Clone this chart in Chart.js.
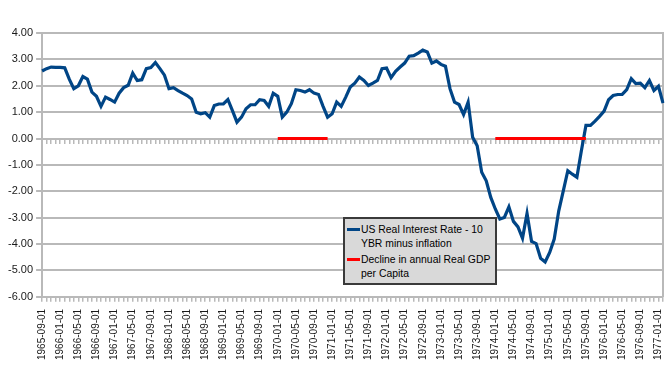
<!DOCTYPE html>
<html>
<head>
<meta charset="utf-8">
<script src="https://cdn.jsdelivr.net/npm/chart.js@4.4.1/dist/chart.umd.min.js"></script>
<style>
  html, body { margin: 0; padding: 0; background: #ffffff; }
  #wrap { position: relative; width: 670px; height: 367px; }
  #legend {
    position: absolute; left: 343px; top: 217px; width: 150px; height: 64px;
    background: #d9d9d9; border: 2px solid #3a3a3a;
    font-family: "Liberation Sans", Arial, sans-serif; font-size: 10.4px; color: #000;
    line-height: 13.5px; box-sizing: content-box; white-space: nowrap;
  }
  .item { position: relative; padding-left: 16px; margin-top: 4px; }
  .item + .item { margin-top: 3px; }
  .sw { position: absolute; left: 2px; top: 5px; width: 13px; height: 3px; }
</style>
</head>
<body>
<div id="wrap">
  <canvas id="c" width="670" height="367"></canvas>
  <div id="legend"></div>
</div>
<script>
const months = [
"1965-09-01","1965-10-01","1965-11-01","1965-12-01",
"1966-01-01","1966-02-01","1966-03-01","1966-04-01","1966-05-01","1966-06-01","1966-07-01","1966-08-01","1966-09-01","1966-10-01","1966-11-01","1966-12-01",
"1967-01-01","1967-02-01","1967-03-01","1967-04-01","1967-05-01","1967-06-01","1967-07-01","1967-08-01","1967-09-01","1967-10-01","1967-11-01","1967-12-01",
"1968-01-01","1968-02-01","1968-03-01","1968-04-01","1968-05-01","1968-06-01","1968-07-01","1968-08-01","1968-09-01","1968-10-01","1968-11-01","1968-12-01",
"1969-01-01","1969-02-01","1969-03-01","1969-04-01","1969-05-01","1969-06-01","1969-07-01","1969-08-01","1969-09-01","1969-10-01","1969-11-01","1969-12-01",
"1970-01-01","1970-02-01","1970-03-01","1970-04-01","1970-05-01","1970-06-01","1970-07-01","1970-08-01","1970-09-01","1970-10-01","1970-11-01","1970-12-01",
"1971-01-01","1971-02-01","1971-03-01","1971-04-01","1971-05-01","1971-06-01","1971-07-01","1971-08-01","1971-09-01","1971-10-01","1971-11-01","1971-12-01",
"1972-01-01","1972-02-01","1972-03-01","1972-04-01","1972-05-01","1972-06-01","1972-07-01","1972-08-01","1972-09-01","1972-10-01","1972-11-01","1972-12-01",
"1973-01-01","1973-02-01","1973-03-01","1973-04-01","1973-05-01","1973-06-01","1973-07-01","1973-08-01","1973-09-01","1973-10-01","1973-11-01","1973-12-01",
"1974-01-01","1974-02-01","1974-03-01","1974-04-01","1974-05-01","1974-06-01","1974-07-01","1974-08-01","1974-09-01","1974-10-01","1974-11-01","1974-12-01",
"1975-01-01","1975-02-01","1975-03-01","1975-04-01","1975-05-01","1975-06-01","1975-07-01","1975-08-01","1975-09-01","1975-10-01","1975-11-01","1975-12-01",
"1976-01-01","1976-02-01","1976-03-01","1976-04-01","1976-05-01","1976-06-01","1976-07-01","1976-08-01","1976-09-01","1976-10-01","1976-11-01","1976-12-01",
"1977-01-01","1977-02-01"
];

const realRate = [
2.56,2.65,2.71,2.70,2.70,2.68,2.25,1.89,2.00,2.35,
2.25,1.76,1.60,1.22,1.57,1.48,1.38,1.72,1.93,2.02,
2.48,2.20,2.23,2.65,2.69,2.88,2.65,2.40,1.89,1.93,
1.82,1.72,1.63,1.50,1.00,0.94,0.98,0.81,1.25,1.31,
1.31,1.48,1.06,0.62,0.81,1.13,1.28,1.28,1.47,1.44,
1.22,1.72,1.60,0.81,1.00,1.32,1.85,1.82,1.76,1.85,
1.72,1.67,1.22,0.81,0.94,1.38,1.22,1.57,1.95,2.10,
2.33,2.20,2.01,2.10,2.20,2.65,2.67,2.31,2.55,2.71,
2.86,3.12,3.14,3.24,3.35,3.28,2.86,2.94,2.81,2.74,
1.89,1.38,1.29,0.91,1.38,0.05,-0.27,-1.28,-1.60,-2.23,
-2.67,-3.05,-2.99,-2.59,-3.14,-3.35,-3.78,-2.84,-3.90,-3.98,
-4.54,-4.68,-4.32,-3.81,-2.74,-1.98,-1.22,-1.35,-1.47,-0.45,
0.50,0.50,0.66,0.84,1.04,1.47,1.63,1.67,1.67,1.85,
2.27,2.08,2.10,1.93,2.20,1.82,1.98,1.34
];

// Periods of decline in annual real GDP per capita (drawn on the zero line)
const declineStart = ["1970-01-01", "1974-01-01"];
const declineEnd   = ["1970-12-01", "1975-09-01"];
const declineLevel = 0;

const gdpDecline = months.map(m => {
  for (let k = 0; k < declineStart.length; k++) {
    if (m >= declineStart[k] && m <= declineEnd[k]) return declineLevel;
  }
  return null;
});

const yTicks = [4, 3, 2, 1, 0, -1, -2, -3, -4, -5, -6];
const seriesNames = ["US Real Interest Rate - 10 YBR minus inflation", "Decline in annual Real GDP per Capita"];
const seriesLegendLines = [["US Real Interest Rate - 10", "YBR minus inflation"], ["Decline in annual Real GDP", "per Capita"]];
const seriesColors = ["#004586", "#ff0000"];

const gridColor = "#b9b9b9";
const font = "'Liberation Sans', Arial, sans-serif";

const chart = new Chart(document.getElementById('c'), {
  type: 'line',
  data: {
    labels: months,
    datasets: [
      {
        label: seriesNames[0], data: realRate, borderColor: seriesColors[0], backgroundColor: seriesColors[0],
        borderWidth: 3.2, pointRadius: 0, tension: 0, order: 1, xAxisID: 'x', yAxisID: 'y'
      },
      {
        label: seriesNames[1], data: gdpDecline, borderColor: seriesColors[1], backgroundColor: seriesColors[1],
        borderWidth: 3, pointRadius: 0, tension: 0, spanGaps: false, order: 0, borderCapStyle: 'butt', xAxisID: 'x', yAxisID: 'y'
      }
    ]
  },
  options: {
    responsive: false,
    animation: false,
    devicePixelRatio: 1,
    layout: { padding: { top: 33, left: 5, right: 7, bottom: 0 } },
    plugins: { legend: { display: false }, tooltip: { enabled: false } },
    scales: {
      x: {
        type: 'category',
        position: 'bottom',
        offset: false,
        afterFit: s => { s.paddingLeft = 0; s.paddingRight = 0; },
        grid: { drawOnChartArea: false, drawTicks: true, tickLength: 5, color: gridColor, lineWidth: 1.5 },
        border: { display: true, color: gridColor, width: 2 },
        ticks: {
          autoSkip: false, minRotation: 90, maxRotation: 90, padding: 7,
          font: { family: font, size: 10 }, color: '#1a1a1a',
          callback: function(v, i) { return (i % 4 === 0) ? months[i] : ''; }
        }
      },
      xz: {
        type: 'category',
        axis: 'x',
        position: { y: 0 },
        offset: false,
        grid: { drawOnChartArea: false, drawTicks: true, tickLength: 5, color: gridColor, lineWidth: 1.5 },
        border: { display: false },
        ticks: { display: false, autoSkip: false }
      },
      y: {
        type: 'linear',
        position: 'left',
        min: -6, max: 4,
        afterBuildTicks: s => { s.ticks = yTicks.map(v => ({ value: v })); },
        grid: { color: gridColor, lineWidth: 2, tickLength: 6, drawTicks: true },
        border: { display: true, color: gridColor, width: 2 },
        ticks: {
          padding: 3, font: { family: font, size: 11 }, color: '#1a1a1a',
          callback: v => Number(v).toFixed(2)
        }
      },
      yr: {
        type: 'linear',
        position: 'right',
        min: -6, max: 4,
        grid: { display: false, drawTicks: false },
        border: { display: true, color: gridColor, width: 2 },
        ticks: { display: false }
      }
    }
  }
});

// HTML legend built from the datasets
const lg = document.getElementById('legend');
chart.data.datasets.forEach((ds, i) => {
  const it = document.createElement('div');
  it.className = 'item';
  const sw = document.createElement('span');
  sw.className = 'sw';
  sw.style.background = ds.borderColor;
  it.appendChild(sw);
  seriesLegendLines[i].forEach((t, j) => {
    if (j) it.appendChild(document.createElement('br'));
    it.appendChild(document.createTextNode(t));
  });
  lg.appendChild(it);
});
</script>
</body>
</html>
